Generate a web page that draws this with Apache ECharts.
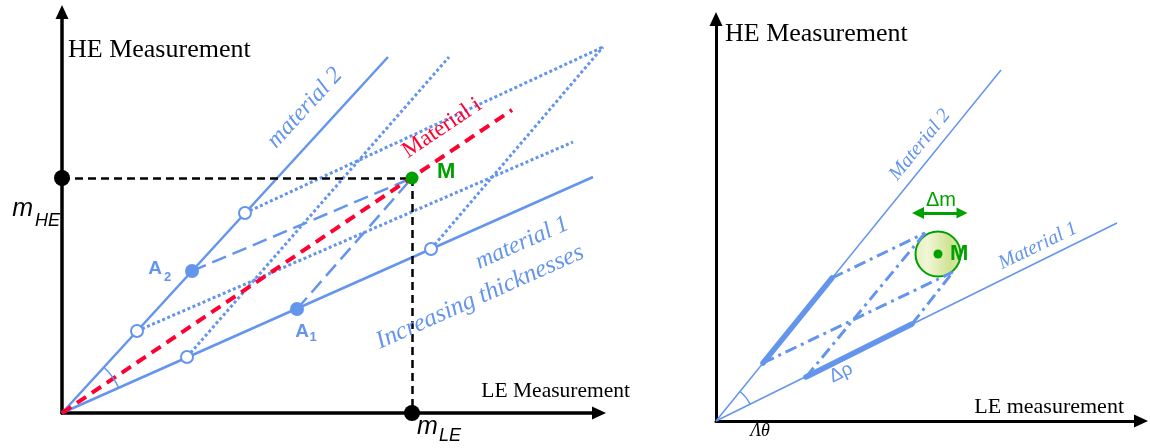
<!DOCTYPE html>
<html lang="en">
<head>
<meta charset="UTF-8">
<title>HE / LE Measurement</title>
<script src="https://cdn.jsdelivr.net/npm/echarts@6/dist/echarts.min.js"></script>
<style>
	html, body { margin: 0; padding: 0; background: #fff; }
	#chart { width: 1150px; height: 448px; }
</style>
</head>
<body>
<div id="chart"></div>
<script>
// ---- left panel (units counted from its origin) ----
var material2Tip = [326, 356];
var material1Tip = [531, 236];
var materialITip = [450, 303];
var pointM = [350, 235];
var pointA1 = [235, 104];
var pointA2 = [130, 142];
var marks2 = [[75, 82], [183, 200]];   // open circles on material 2
var marks1 = [[125, 56], [369, 164]];  // open circles on material 1
var guideTips = [[511, 271], [387, 356], [541, 366]];

// ---- right panel ----
var rMaterial2Tip = [285, 351];
var rMaterial1Tip = [401, 198];
var rRange2 = [[47, 58], [116, 143]];
var rRange1 = [[90, 44], [196, 97]];
var rSpot = [222, 167];
var rSpotTop = [209, 188];
var rSpotBottom = [237, 149];
var rDeltaM = [[202, 208], [246, 208]];

var blue = '#6495ed';
var red = '#ff0033';
var green = '#00a000';

// texts
function serif(size, color, italic) {
	return { fontFamily: 'Liberation Serif', fontSize: size, color: color, fontStyle: italic ? 'italic' : 'normal' };
}
function sans(size, color, bold, italic) {
	return { fontFamily: 'Liberation Sans', fontSize: size, color: color, fontWeight: bold ? 'bold' : 'normal', fontStyle: italic ? 'italic' : 'normal' };
}
var notes = [
	{ g: 0, text: 'material 2', at: [243, 305], rotate: 47.5, style: serif(24, blue, true) },
	{ g: 0, text: 'Material i', at: [380, 285], rotate: 34, style: serif(23, red, false) },
	{ g: 0, text: 'material 1', at: [460, 170], rotate: 24, style: serif(24, blue, true) },
	{ g: 0, text: 'Increasing thicknesses', at: [418, 116], rotate: 24, style: serif(25, blue, true) },
	{ g: 0, text: 'A', at: [93, 144], style: sans(19, blue, true) },
	{ g: 0, text: '2', at: [105.5, 135.5], style: sans(13, blue, true) },
	{ g: 0, text: 'A', at: [240, 81.5], style: sans(19, blue, true) },
	{ g: 0, text: '1', at: [251, 76], style: sans(13, blue, true) },
	{ g: 0, text: 'M', at: [375, 241.5], align: 'left', style: sans(22, green, true) },
	{ g: 0, text: 'm', at: [-29, 203.5], align: 'right', style: sans(25, '#000', false, true) },
	{ g: 0, text: 'HE', at: [-27, 192.5], align: 'left', style: sans(18, '#000', false, true) },
	{ g: 0, text: 'm', at: [355, -14], align: 'left', style: sans(25, '#000', false, true) },
	{ g: 0, text: 'LE', at: [377, -22.5], align: 'left', style: sans(18, '#000', false, true) },
	{ g: 1, text: 'Material 2', at: [204, 276], rotate: 51, style: serif(20, blue, true) },
	{ g: 1, text: 'Material 1', at: [322, 175], rotate: 26, style: serif(20, blue, true) },
	{ g: 1, text: 'Δm', at: [225, 220.5], style: sans(20, green, false) },
	{ g: 1, text: 'M', at: [234, 167], align: 'left', style: sans(22, green, true) },
	{ g: 1, text: 'Δρ', at: [125, 48], rotate: 26, style: sans(19, blue, false) },
	{ g: 1, text: 'Λθ', at: [44, -10], style: serif(18, '#000', true) }
];

function axisPair(gi, xmax, ymax, lw, xName, yName) {
	var line = { show: true, symbol: ['none', 'triangle'], symbolSize: [13, 14], lineStyle: { color: '#000', width: lw } };
	var base = { type: 'value', gridIndex: gi, min: 0, axisTick: { show: false }, axisLabel: { show: false }, splitLine: { show: false }, axisLine: line };
	return {
		x: Object.assign({}, base, { max: xmax, name: xName.text, nameLocation: 'end', nameGap: xName.gap,
			nameTextStyle: Object.assign(serif(xName.size, '#000'), { align: 'right', verticalAlign: 'bottom', lineHeight: 22, padding: [0, 0, xName.lift, 0] }) }),
		y: Object.assign({}, base, { max: ymax, name: yName.text, nameLocation: 'end', nameGap: yName.gap,
			nameTextStyle: Object.assign(serif(26, '#000'), { align: 'left', verticalAlign: 'middle', padding: [0, 0, 0, yName.pad] }) })
	};
}
var leftAxes = axisPair(0, 537, 401, 3.5, { text: 'LE Measurement', gap: 31, lift: 10.5, size: 21.5 }, { text: 'HE Measurement', gap: -38.5, pad: 6 });
var rightAxes = axisPair(1, 425, 402, 3, { text: 'LE measurement', gap: -17, lift: 2.5, size: 22 }, { text: 'HE Measurement', gap: -15.5, pad: 9 });

function segs(gi, list, style, extra) {
	return Object.assign({
		type: 'lines', coordinateSystem: 'cartesian2d', xAxisIndex: gi, yAxisIndex: gi,
		polyline: false, clip: false, silent: true, symbol: 'none',
		lineStyle: Object.assign({ opacity: 1 }, style),
		data: list.map(function (p) { return { coords: p }; })
	}, extra || {});
}
function dots(gi, list, extra) {
	var s = Object.assign({
		type: 'scatter', xAxisIndex: gi, yAxisIndex: gi, clip: false, silent: true, data: list
	}, extra);
	s.itemStyle = Object.assign({ opacity: 1 }, s.itemStyle);
	return s;
}
function angleArc(gi, tipA, tipB, r) {
	return {
		type: 'custom', xAxisIndex: gi, yAxisIndex: gi, clip: false, silent: true, data: [[0, 0]],
		renderItem: function (params, api) {
			var o = api.coord([0, 0]), a = api.coord(tipA), b = api.coord(tipB);
			var angA = Math.atan2(a[1] - o[1], a[0] - o[0]);
			var angB = Math.atan2(b[1] - o[1], b[0] - o[0]);
			return {
				type: 'arc',
				shape: { cx: o[0], cy: o[1], r: r, startAngle: Math.min(angA, angB), endAngle: Math.max(angA, angB) },
				style: { stroke: blue, lineWidth: 1.5, fill: null }
			};
		}
	};
}

// pale hatched fill of the uncertainty spot
var hatch = document.createElement('canvas');
hatch.width = 3; hatch.height = 4;
var hctx = hatch.getContext('2d');
hctx.fillStyle = '#f1f7d6'; hctx.fillRect(0, 0, 3, 4);
hctx.fillStyle = '#cfe393'; hctx.fillRect(0, 0, 1.5, 4);

var origin = [0, 0];
var series = [
	// left panel
	segs(0, [[origin, material2Tip], [origin, material1Tip]], { color: blue, width: 2.5 }),
	segs(0, [[marks2[0], guideTips[0]], [marks1[0], guideTips[1]], [marks2[1], guideTips[2]], [marks1[1], guideTips[2]]],
		{ color: blue, width: 3, type: [3, 2.5] }),
	segs(0, [[pointA2, pointM], [pointA1, pointM]], { color: blue, width: 2.5, type: [15, 7] }),
	segs(0, [[[0, pointM[1]], pointM], [pointM, [pointM[0], 0]]], { color: '#000', width: 2.5, type: [8, 5] }),
	dots(0, [pointM], { symbolSize: 13, itemStyle: { color: green } }),
	segs(0, [[origin, materialITip]], { color: red, width: 4, type: [11, 7] }),
	dots(0, marks2.concat(marks1), { symbol: 'circle', symbolSize: 12, itemStyle: { color: '#fff', borderColor: blue, borderWidth: 2 } }),
	dots(0, [pointA1, pointA2], { symbolSize: 14, itemStyle: { color: blue } }),
	dots(0, [[0, pointM[1]], [pointM[0], 0]], { symbolSize: 16, itemStyle: { color: '#000' } }),
	angleArc(0, material1Tip, material2Tip, 62),
	// right panel
	dots(1, [rSpot], { symbolSize: 45, z: 1, itemStyle: { color: { image: hatch, repeat: 'repeat' }, borderColor: green, borderWidth: 2 } }),
	segs(1, [[origin, rMaterial2Tip], [origin, rMaterial1Tip]], { color: blue, width: 1.5 }),
	segs(1, [rRange2, rRange1], { color: blue, width: 5.5, cap: 'round' }),
	segs(1, [[rRange2[1], rSpotTop], [rRange1[0], rSpotTop], [rRange2[0], rSpotBottom], [rRange1[1], rSpotBottom]],
		{ color: blue, width: 3, type: [12, 5, 3, 5] }),
	dots(1, [rSpot], { symbolSize: 9, itemStyle: { color: green } }),
	segs(1, [rDeltaM], { color: green, width: 3 }, { symbol: ['triangle', 'triangle'], symbolSize: [12, 11] }),
	angleArc(1, rMaterial1Tip, rMaterial2Tip, 38)
];

[0, 1].forEach(function (gi) {
	series.push(dots(gi, notes.filter(function (n) { return n.g === gi; }).map(function (n) {
		return {
			value: n.at,
			label: Object.assign({ show: true, formatter: n.text, position: 'inside', rotate: n.rotate || 0,
				align: n.align || 'center', verticalAlign: 'middle' }, n.style)
		};
	}), { symbolSize: 0, z: 5, itemStyle: { color: 'transparent' } }));
});

var chart = echarts.init(document.getElementById('chart'), null, { renderer: 'canvas' });
chart.setOption({
	animation: false,
	backgroundColor: '#fff',
	grid: [
		{ left: 62, top: 12, width: 537, height: 401 },
		{ left: 716, top: 19, width: 425, height: 402 }
	],
	xAxis: [leftAxes.x, rightAxes.x],
	yAxis: [leftAxes.y, rightAxes.y],
	series: series
});
</script>
</body>
</html>
